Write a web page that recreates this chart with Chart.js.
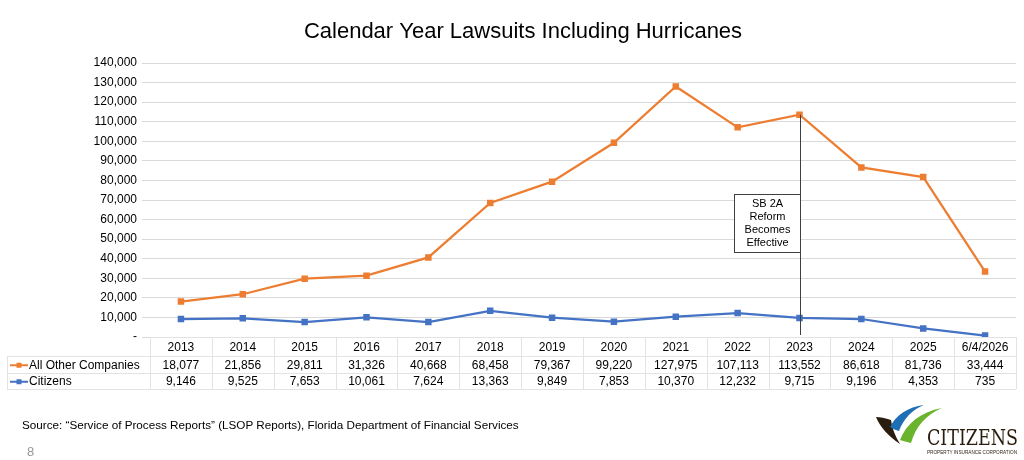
<!DOCTYPE html>
<html>
<head>
<meta charset="utf-8">
<script src="https://cdn.jsdelivr.net/npm/chart.js@4.4.1/dist/chart.umd.min.js"></script>
<style>
  html, body { margin: 0; padding: 0; background: #fff; }
  #wrap { position: relative; width: 1024px; height: 460px; overflow: hidden; font-family: Arial, "Liberation Sans", sans-serif; }
  #chart { position: absolute; left: 0; top: 0; }
  #source { position: absolute; left: 22px; top: 418px; font-size: 11.7px; color: #000; }
  #page { position: absolute; left: 27px; top: 444px; font-size: 13px; color: #999; }
  #logo { position: absolute; left: 868px; top: 400px; }
</style>
</head>
<body>
<div id="wrap">
  <canvas id="chart" width="1024" height="460"></canvas>
  <div id="source">Source: “Service of Process Reports” (LSOP Reports), Florida Department of Financial Services</div>
  <div id="page">8</div>
  <svg id="logo" width="156" height="60" viewBox="0 0 156 60">
    <path d="M8 17 C 12 27, 20 36, 32 44 C 27 36, 24 28, 23 20 C 17 18, 12 17, 8 17 Z" fill="#2b1d0e"/>
    <path d="M22 27 C 28 15, 40 7, 56 5 C 44 10, 36 18, 31 31 C 28 30, 25 29, 22 27 Z" fill="#1f6fb5"/>
    <path d="M32 40 C 38 24, 52 12, 74 8 C 58 15, 48 26, 43 43 C 39 42, 35 41, 32 40 Z" fill="#6ab42d"/>
    <text x="59" y="45" font-family="'DejaVu Serif Condensed', 'DejaVu Serif', serif" font-size="22" fill="#2b1d0e" textLength="91" lengthAdjust="spacingAndGlyphs">CITIZENS</text>
    <text x="59" y="54" font-family="Arial" font-size="4.5" fill="#2b1d0e" textLength="90" lengthAdjust="spacingAndGlyphs">PROPERTY INSURANCE CORPORATION</text>
  </svg>
</div>
<script>
var categories = ['2013', '2014', '2015', '2016', '2017', '2018', '2019', '2020', '2021', '2022', '2023', '2024', '2025', '6/4/2026'];
var otherCompanies = [18077, 21856, 29811, 31326, 40668, 68458, 79367, 99220, 127975, 107113, 113552, 86618, 81736, 33444];
var citizens = [9146, 9525, 7653, 10061, 7624, 13363, 9849, 7853, 10370, 12232, 9715, 9196, 4353, 735];
var seriesNames = ['All Other Companies', 'Citizens'];
var seriesColors = ['#ED7D31', '#4472C4'];
var yTicks = { min: 0, max: 140000, step: 10000 };
var chartTitle = 'Calendar Year Lawsuits Including Hurricanes';
// annotation: text lines, category it sits on, top/bottom value of the box
var noteLines = ['SB 2A', 'Reform', 'Becomes', 'Effective'];
var noteCategory = '2023';
var noteBoxTop = 73000;
var noteBoxBottom = 43500;

var FONT = 'Arial, "Liberation Sans", sans-serif';

function fmt(n) {
    return n.toLocaleString('en-US');
}

// title, data table and reform note drawn around the plot
var extrasPlugin = {
    id: 'extras',
    afterDraw: function (chart) {
        var ctx = chart.ctx;
        var area = chart.chartArea;
        var x = chart.scales.x;
        var y = chart.scales.y;
        ctx.save();

        // title
        ctx.fillStyle = '#000';
        ctx.font = '22px ' + FONT;
        ctx.textAlign = 'center';
        ctx.textBaseline = 'middle';
        ctx.fillText(chartTitle, 523, 32);

        // reform note
        var idx = categories.indexOf(noteCategory);
        var nx = Math.round(x.getPixelForValue(idx)) + 0.5;
        ctx.strokeStyle = '#404040';
        ctx.lineWidth = 1;
        ctx.beginPath();
        ctx.moveTo(nx, y.getPixelForValue(otherCompanies[idx]));
        ctx.lineTo(nx, area.bottom - 2);
        ctx.stroke();
        var bTop = Math.round(y.getPixelForValue(noteBoxTop)) + 0.5;
        var bBot = Math.round(y.getPixelForValue(noteBoxBottom)) + 0.5;
        var bW = 66;
        ctx.fillStyle = '#fff';
        ctx.fillRect(nx - bW, bTop, bW, bBot - bTop);
        ctx.strokeRect(nx - bW, bTop, bW, bBot - bTop);
        ctx.fillStyle = '#000';
        ctx.font = '11px ' + FONT;
        var lh = 13;
        var midY = (bTop + bBot) / 2 - lh * (noteLines.length - 1) / 2;
        noteLines.forEach(function (t, i) {
            ctx.fillText(t, nx - bW / 2, midY + i * lh);
        });

        // data table
        var colW = (area.right - area.left) / categories.length;
        var top = area.bottom;
        var hdrH = 19, rowH = 16.5;
        var r1 = top + hdrH, r2 = r1 + rowH, bottom = r2 + rowH;
        var labelLeft = 7;
        ctx.strokeStyle = '#e3e3e3';
        ctx.lineWidth = 1;
        ctx.beginPath();
        ctx.moveTo(area.left, top + 0.5); ctx.lineTo(area.right, top + 0.5);
        [r1, r2, bottom].forEach(function (yy) {
            ctx.moveTo(labelLeft, Math.round(yy) + 0.5); ctx.lineTo(area.right, Math.round(yy) + 0.5);
        });
        for (var i = 0; i <= categories.length; i++) {
            var vx = Math.round(area.left + i * colW) + 0.5;
            ctx.moveTo(vx, top); ctx.lineTo(vx, bottom);
        }
        ctx.moveTo(labelLeft + 0.5, Math.round(r1)); ctx.lineTo(labelLeft + 0.5, Math.round(bottom));
        ctx.stroke();

        ctx.fillStyle = '#000';
        ctx.font = '12px ' + FONT;
        ctx.textAlign = 'center';
        ctx.textBaseline = 'middle';
        var rows = [otherCompanies, citizens];
        categories.forEach(function (c, i) {
            var cx = x.getPixelForValue(i);
            ctx.fillText(c, cx, top + hdrH / 2 + 1);
            rows.forEach(function (vals, r) {
                ctx.fillText(fmt(vals[i]), cx, r1 + rowH * r + rowH / 2 + 1);
            });
        });

        // legend keys in label column
        ctx.textAlign = 'left';
        seriesNames.forEach(function (name, r) {
            var ry = r1 + rowH * r + rowH / 2 + 1;
            ctx.strokeStyle = seriesColors[r];
            ctx.lineWidth = 2;
            ctx.beginPath();
            ctx.moveTo(10, ry); ctx.lineTo(28, ry);
            ctx.stroke();
            ctx.fillStyle = seriesColors[r];
            ctx.fillRect(16.5, ry - 2.5, 5, 5);
            ctx.fillStyle = '#000';
            ctx.fillText(name, 29, ry);
        });
        ctx.restore();
    }
};

new Chart(document.getElementById('chart'), {
    type: 'line',
    data: {
        labels: categories,
        datasets: [{
            label: seriesNames[0],
            data: otherCompanies,
            borderColor: seriesColors[0],
            backgroundColor: seriesColors[0],
            borderWidth: 2.25,
            pointStyle: 'rect',
            pointRadius: 3,
            tension: 0
        }, {
            label: seriesNames[1],
            data: citizens,
            borderColor: seriesColors[1],
            backgroundColor: seriesColors[1],
            borderWidth: 2.25,
            pointStyle: 'rect',
            pointRadius: 3,
            tension: 0
        }]
    },
    options: {
        responsive: false, animation: false,
        layout: { padding: { left: 0, right: 8, top: 63, bottom: 123 } },
        scales: {
            x: { display: false, offset: true },
            y: {
                min: yTicks.min, max: yTicks.max,
                afterFit: function (s) { s.width = 150; },
                border: { display: false },
                grid: { color: '#d9d9d9', tickLength: 8, drawTicks: true },
                ticks: {
                    stepSize: yTicks.step, padding: 5, color: '#000',
                    font: { family: FONT, size: 12 },
                    callback: function (v) { return v === 0 ? '-' : fmt(v); }
                }
            }
        },
        plugins: { legend: { display: false }, tooltip: { enabled: false }, title: { display: false } }
    },
    plugins: [extrasPlugin]
});
</script>
</body>
</html>
